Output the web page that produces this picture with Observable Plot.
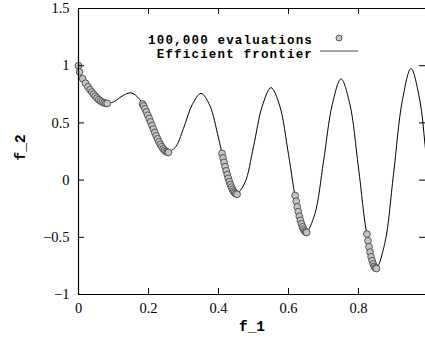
<!DOCTYPE html>
<html><head><meta charset="utf-8">
<script src="https://cdn.jsdelivr.net/npm/d3@7"></script>
<script src="https://cdn.jsdelivr.net/npm/@observablehq/plot@0.6"></script>
<style>body{margin:0;background:#fff;overflow:hidden}</style>
</head><body><div id="chart"></div>
<script>
// Efficient frontier (line)
const frontierF1 = [0,0.002,0.005,0.01,0.025,0.05,0.075,0.1,0.125,0.15,0.175,0.2,0.225,0.25,0.275,0.3,0.325,0.35,0.375,0.4,0.425,0.45,0.475,0.5,0.525,0.55,0.575,0.6,0.625,0.65,0.675,0.7,0.725,0.75,0.775,0.8,0.825,0.85,0.875,0.9,0.925,0.95,0.975,0.99,1.0];
const frontierF2 = [1,0.955,0.929,0.897,0.824,0.726,0.673,0.684,0.735,0.763,0.705,0.553,0.367,0.25,0.281,0.452,0.660,0.758,0.653,0.368,0.048,-0.121,-0.025,0.293,0.647,0.808,0.648,0.225,-0.233,-0.456,-0.299,0.163,0.661,0.884,0.668,0.106,-0.492,-0.772,-0.554,0.051,0.692,0.975,0.702,0.311,0];
// 100,000 evaluations (points)
const evalF1 = [0,0.003,0.012,0.02,0.027,0.033,0.038,0.043,0.048,0.053,0.058,0.063,0.068,0.073,0.078,0.082,
  0.183,0.186,0.19,0.194,0.198,0.202,0.206,0.21,0.214,0.218,0.222,0.226,0.23,0.234,0.238,0.242,0.246,0.25,0.254,0.257,
  0.41,0.413,0.416,0.419,0.422,0.425,0.428,0.431,0.434,0.437,0.44,0.443,0.446,0.449,0.453,
  0.619,0.622,0.625,0.628,0.631,0.634,0.637,0.64,0.643,0.646,0.649,0.652,
  0.824,0.827,0.83,0.833,0.836,0.839,0.842,0.845,0.848,0.851];
const evalF2 = [1,0.945,0.886,0.847,0.815,0.790,0.770,0.751,0.733,0.717,0.703,0.691,0.682,0.675,0.671,0.670,
  0.665,0.648,0.623,0.596,0.567,0.538,0.508,0.477,0.446,0.416,0.387,0.360,0.334,0.311,0.291,0.274,0.260,0.250,0.244,0.242,
  0.233,0.193,0.155,0.117,0.081,0.048,0.016,-0.013,-0.039,-0.062,-0.082,-0.098,-0.110,-0.119,-0.124,
  -0.135,-0.185,-0.233,-0.276,-0.316,-0.352,-0.383,-0.409,-0.429,-0.445,-0.454,-0.458,
  -0.472,-0.530,-0.583,-0.630,-0.671,-0.705,-0.733,-0.754,-0.767,-0.773];
const xTicks = [0,0.2,0.4,0.6,0.8];
const yTicks = [-1,-0.5,0,0.5,1,1.5];
const xDomain = [0,0.9914];
const yDomain = [-1,1.5];
const legendLabels = ["100,000 evaluations","Efficient frontier"];
const xLabel = "f_1";
const yLabel = "f_2";

const frontier = frontierF1.map((x,i)=>({x, y: frontierF2[i]}));
const evals = evalF1.map((x,i)=>({x, y: evalF2[i]}));
const innerX = xTicks.filter(t => t > xDomain[0]);
const innerY = yTicks.filter(t => t > yDomain[0] && t < yDomain[1]);
const serif = "'Liberation Serif', 'Times New Roman', serif";
const mono = "'Liberation Mono', 'Courier New', monospace";
const fmt = d3.format("~g");

const plot = Plot.plot({
  width: 425, height: 341,
  marginLeft: 78, marginRight: 0, marginTop: 8, marginBottom: 47,
  style: {fontSize: "14.5px", color: "black", background: "white"},
  x: {domain: xDomain},
  y: {domain: yDomain},
  marks: [
    Plot.axisX(xTicks, {tickSize: 0, tickPadding: 8, label: null, fontSize: 14.5, tickFormat: fmt, fill: "black"}),
    Plot.axisY(yTicks, {tickSize: 0, tickPadding: 9, label: null, fontSize: 14.5, tickFormat: fmt, fill: "black"}),
    Plot.line(frontier, {x: "x", y: "y", curve: "catmull-rom", stroke: "black", strokeWidth: 1, clip: true}),
    Plot.dot(evals, {x: "x", y: "y", r: 3.4, fill: "#c4c4c4", stroke: "#3a3a3a", strokeWidth: 0.8}),
    // frame (left, bottom, top)
    Plot.ruleX([xDomain[0]], {stroke: "black", strokeWidth: 1.2}),
    Plot.ruleY([yDomain[0]], {stroke: "black", strokeWidth: 1.2}),
    Plot.ruleY([yDomain[1]], {stroke: "black", strokeWidth: 1.2}),
    // inward ticks
    Plot.ruleX(innerX, {x: d => d, y1: yDomain[0], y2: yDomain[0], insetBottom: 6, stroke: "black"}),
    Plot.ruleX(innerX, {x: d => d, y1: yDomain[1], y2: yDomain[1], insetTop: 6, stroke: "black"}),
    Plot.ruleY(innerY, {y: d => d, x1: xDomain[0], x2: xDomain[0], insetRight: -6, stroke: "black"}),
    Plot.ruleY(innerY, {y: d => d, x1: xDomain[1], x2: xDomain[1], insetLeft: -6, stroke: "black"}),
    Plot.text([xLabel], {frameAnchor: "bottom", dy: 36, fontWeight: "bold", fontSize: 14.5, fill: "black"}),
    Plot.text([yLabel], {frameAnchor: "left", dx: -58, dy: 9, rotate: -90, fontWeight: "bold", fontSize: 14.5, fill: "black"})
  ]
});
document.getElementById("chart").appendChild(plot);

const svg = d3.select(plot);
// fonts: serif tick labels, bold monospace axis titles
svg.style("font-family", serif);
svg.selectAll("g").style("font-family", null);
svg.selectAll("text").each(function() {
  const t = d3.select(this).text();
  d3.select(this).style("font-family", (t === xLabel || t === yLabel) ? mono : serif);
});

// legend
const lg = svg.append("g").attr("font-weight", "bold").attr("font-size", 12.5)
  .attr("letter-spacing", "1.18px").attr("fill", "black");
lg.selectAll("text").data(legendLabels).join("text")
  .style("font-family", mono)
  .attr("x", 313).attr("y", (d, i) => 40 + i * 13.5)
  .attr("text-anchor", "end").attr("dy", "0.35em").text(d => d);
lg.append("circle").attr("cx", 339).attr("cy", 38).attr("r", 3).attr("fill", "#c4c4c4").attr("stroke", "#3a3a3a").attr("stroke-width", 0.8);
lg.append("line").attr("x1", 320).attr("x2", 358).attr("y1", 51).attr("y2", 51).attr("stroke", "#444").attr("stroke-width", 1);
</script></body></html>
